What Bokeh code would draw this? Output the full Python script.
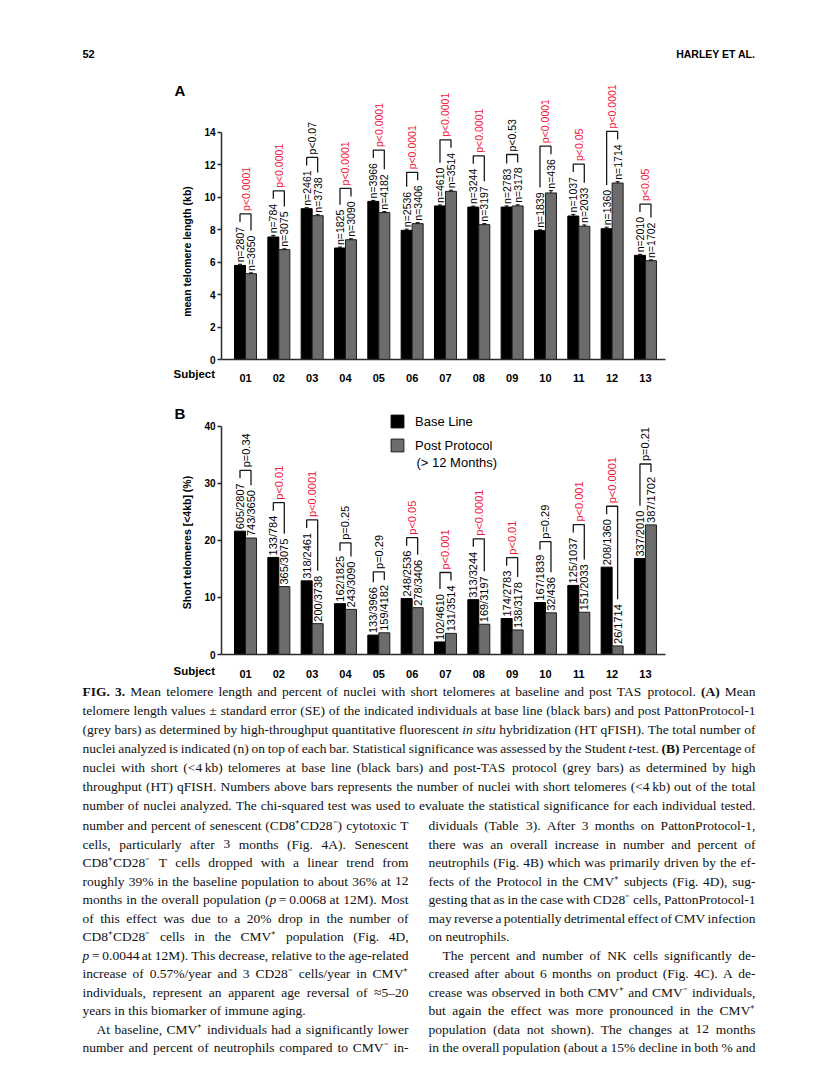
import numpy as np
from bokeh.plotting import figure
from bokeh.models import Range1d, FixedTicker, Legend, LegendItem, LinearAxis
from bokeh.embed import file_html
from bokeh.resources import INLINE
from bokeh.core.properties import value

# ---------------- data ----------------
subjects = ["01", "02", "03", "04", "05", "06", "07", "08", "09", "10", "11", "12", "13"]

# Panel A: mean telomere length (kb)
tel_base = [5.79, 7.54, 9.28, 6.86, 9.73, 7.95, 9.45, 9.38, 9.38, 7.93, 8.83, 8.05, 6.41]
tel_post = [5.28, 6.76, 8.85, 7.37, 9.04, 8.36, 10.35, 8.30, 9.45, 10.25, 8.20, 10.86, 6.08]
tel_se_base = [0.07, 0.10, 0.06, 0.06, 0.06, 0.07, 0.06, 0.06, 0.07, 0.05, 0.10, 0.09, 0.06]
tel_se_post = [0.05, 0.05, 0.06, 0.06, 0.06, 0.06, 0.07, 0.06, 0.07, 0.14, 0.08, 0.08, 0.05]
nuclei_base = [2807, 784, 2461, 1825, 3966, 2536, 4610, 3244, 2783, 1839, 1037, 1360, 2010]
nuclei_post = [3650, 3075, 3738, 3090, 4182, 3406, 3514, 3197, 3178, 436, 2033, 1714, 1702]
p_tel = ["p<0.0001", "p<0.0001", "p<0.07", "p<0.0001", "p<0.0001", "p<0.0001", "p<0.0001",
         "p<0.0001", "p<0.53", "p<0.0001", "p<0.05", "p<0.0001", "p<0.05"]
p_tel_sig = [True, True, False, True, True, True, True, True, False, True, True, True, True]

# Panel B: short telomeres (<4 kb), %
short_base = [605, 133, 318, 162, 133, 248, 102, 313, 174, 167, 125, 208, 337]
short_post = [743, 365, 200, 243, 159, 278, 131, 169, 138, 32, 151, 26, 387]
short_pct_base = [21.6, 17.0, 12.9, 8.9, 3.4, 9.8, 2.2, 9.6, 6.3, 9.1, 12.1, 15.3, 16.8]
short_pct_post = [20.4, 11.9, 5.4, 7.9, 3.8, 8.2, 3.7, 5.3, 4.3, 7.3, 7.4, 1.5, 22.7]
p_short = ["p=0.34", "p<0.01", "p<0.0001", "p=0.25", "p=0.29", "p<0.05", "p<0.001",
           "p<0.0001", "p<0.01", "p=0.29", "p<0.001", "p<0.0001", "p=0.21"]
p_short_sig = [False, True, True, False, False, True, True, True, True, False, True, True, False]

legend_labels = ["Base Line", "Post Protocol", "(> 12 Months)"]

caption_lines = [
    "*FIG. 3.*  Mean telomere length and percent of nuclei with short telomeres at baseline and post TAS protocol. *(A)* Mean",
    "telomere length values \u00b1 standard error (SE) of the indicated individuals at base line (black bars) and post PattonProtocol-1",
    "(grey bars) as determined by high-throughput quantitative fluorescent _in situ_ hybridization (HT qFISH). The total number of",
    "nuclei analyzed is indicated (n) on top of each bar. Statistical significance was assessed by the Student _t_-test. *(B)* Percentage of",
    "nuclei with short (<4\u2009kb) telomeres at base line (black bars) and post-TAS  protocol (grey bars) as determined by high",
    "throughput (HT) qFISH. Numbers above bars represents the number of nuclei with short telomeres (<4\u2009kb) out of the total",
    "number of nuclei analyzed. The chi-squared test was used to evaluate the statistical significance for each individual tested.",
]
# (text, indent, justify)
left_col = [
    ("number and percent of senescent (CD8\u207aCD28\u207b) cytotoxic T", 0, True),
    ("cells, particularly after 3 months (Fig. 4A). Senescent", 0, True),
    ("CD8\u207aCD28\u207b T cells dropped with a linear trend from", 0, True),
    ("roughly 39% in the baseline population to about 36% at 12", 0, True),
    ("months in the overall population (_p_\u2009=\u20090.0068 at 12M). Most", 0, True),
    ("of this effect was due to a 20% drop in the number of", 0, True),
    ("CD8\u207aCD28\u207b cells in the CMV\u207a population (Fig. 4D,", 0, True),
    ("_p_\u2009=\u20090.0044 at 12M). This decrease, relative to the age-related", 0, True),
    ("increase of 0.57%/year and 3 CD28\u207b cells/year in CMV\u207a", 0, True),
    ("individuals, represent an apparent age reversal of \u22485\u201320", 0, True),
    ("years in this biomarker of immune aging.", 0, False),
    ("At baseline, CMV\u207a individuals had a significantly lower", 14, True),
    ("number and percent of neutrophils compared to CMV\u207b in-", 0, True),
]
right_col = [
    ("dividuals (Table 3). After 3 months on PattonProtocol-1,", 0, True),
    ("there was an overall increase in number and percent of", 0, True),
    ("neutrophils (Fig. 4B) which was primarily driven by the ef-", 0, True),
    ("fects of the Protocol in the CMV\u207a subjects (Fig. 4D), sug-", 0, True),
    ("gesting that as in the case with CD28\u207b cells, PattonProtocol-1", 0, True),
    ("may reverse a potentially detrimental effect of CMV infection", 0, True),
    ("on neutrophils.", 0, False),
    ("The percent and number of NK cells significantly de-", 14, True),
    ("creased after about 6 months on product (Fig. 4C). A de-", 0, True),
    ("crease was observed in both CMV\u207a and CMV\u207b individuals,", 0, True),
    ("but again the effect was more pronounced in the CMV\u207a", 0, True),
    ("population (data not shown). The changes at 12 months", 0, True),
    ("in the overall population (about a 15% decline in both % and", 0, True),
]

# ---------------- style / page geometry ----------------
SANS = "Liberation Sans"
SERIF = "Liberation Serif"
RED = "#f2163c"
GREY = "#6c6c6c"
AXIS_C = "#2b2b2b"
PL, PR, PT, PB = 0, 827, 0, 1072      # page area covered by the single figure
X0_PAGE = 245.0                       # page x of first subject
X_STEP = 33.33                        # page px per subject
FRAME_LEFT, FRAME_RIGHT = 221, 665    # chart axes extent (page px)


def sub_of(px):
    return 1 + (px - X0_PAGE) / X_STEP


ARIAL = {c: 556 for c in "0123456789np"}
ARIAL.update({"=": 584, "<": 584, ".": 278, "/": 278})


def sans_w(s, fs):
    return sum(ARIAL.get(c, 556) for c in s) / 1000.0 * fs


# zero line page y, px per unit
panels = {"A": (359.0, 16.25), "B": (654.0, 5.71)}

p = figure(frame_width=PR - PL, frame_height=PB - PT, x_range=Range1d(PL, PR),
           y_range=Range1d(PB, PT), min_border=0, x_axis_type=None, y_axis_type=None,
           toolbar_location=None, output_backend="svg", outline_line_color=None,
           background_fill_color="white", border_fill_color="white")
p.extra_x_ranges = {"sub": Range1d(sub_of(PL), sub_of(PR))}
p.extra_y_ranges = {k: Range1d((z - PB) / u, (z - PT) / u) for k, (z, u) in panels.items()}


def panel(name, yticks, base, post, se_b, se_p, lab_b, lab_p, pvals, psig, fs, ylabel,
          ylabel_y, letter_y, subj_y, standoff):
    zero_y, ppu = panels[name]
    rn = dict(x_range_name="sub", y_range_name=name)

    def dy(py):
        return (zero_y - py) / ppu

    xs = np.arange(1, len(subjects) + 1)
    base = np.array(base, dtype=float)
    post = np.array(post, dtype=float)
    se_b = np.array(se_b, dtype=float)
    se_p = np.array(se_p, dtype=float)
    xb = xs - 0.165
    xg = xs + 0.165
    rb = p.vbar(x=xb, top=base, width=0.33, fill_color="black", line_color="black",
                line_width=1, **rn)
    rg = p.vbar(x=xg, top=post, width=0.33, fill_color=GREY, line_color="#1e1e1e",
                line_width=1, **rn)

    tb = base + se_b
    tg = post + se_p
    if se_b.any():
        for xx, v, t in ((xb, base, tb), (xg, post, tg)):
            p.segment(x0=xx, y0=v, x1=xx, y1=t, line_color="black", line_width=1, **rn)
            p.segment(x0=xx - 0.06, y0=t, x1=xx + 0.06, y1=t, line_color="black",
                      line_width=1, **rn)

    yb0 = tb + 2 / ppu
    yg0 = tg + 2 / ppu
    for xx, y0, labs in ((xb, yb0, lab_b), (xg, yg0, lab_p)):
        p.text(x=xx, y=y0, text=labs, angle=np.pi / 2, text_align="left",
               text_baseline="middle", text_font=value(SANS), text_font_size=f"{fs}px",
               text_color="black", **rn)

    len_b = np.array([sans_w(s, fs) for s in lab_b]) / ppu
    len_g = np.array([sans_w(s, fs) for s in lab_p]) / ppu
    leg_b = yb0 + len_b + 5 / ppu
    leg_g = yg0 + len_g + 5 / ppu
    top = np.maximum(leg_b, leg_g) + 8 / ppu
    p.multi_line(xs=[[a, a, b, b] for a, b in zip(xb, xg)],
                 ys=[[lb, t, t, lg] for lb, t, lg in zip(leg_b, top, leg_g)],
                 line_color="#1a1a1a", line_width=1.3, **rn)
    p.text(x=xs, y=top + 3 / ppu, text=pvals, angle=np.pi / 2, text_align="left",
           text_baseline="middle", text_font=value(SANS), text_font_size=f"{fs}px",
           text_color=[RED if s else "black" for s in psig], **rn)

    xa = LinearAxis(fixed_location=0, bounds=(sub_of(FRAME_LEFT), sub_of(FRAME_RIGHT)),
                    ticker=FixedTicker(ticks=[int(i) for i in xs]),
                    major_label_overrides={int(i): s for i, s in zip(xs, subjects)},
                    major_tick_line_color=None, minor_tick_line_color=None,
                    axis_line_color=AXIS_C, axis_line_width=1.5,
                    major_label_text_font=SANS, major_label_text_font_style="bold",
                    major_label_text_font_size="11px", major_label_text_color="black",
                    major_label_standoff=standoff, **rn)
    p.add_layout(xa, "below")
    ya = LinearAxis(fixed_location=sub_of(FRAME_LEFT), bounds=(0, yticks[-1]),
                    ticker=FixedTicker(ticks=yticks), major_tick_out=4, major_tick_in=0,
                    minor_tick_line_color=None, major_tick_line_color=AXIS_C,
                    major_tick_line_width=1.5, axis_line_color=AXIS_C, axis_line_width=1.5,
                    major_label_text_font=SANS, major_label_text_font_style="bold",
                    major_label_text_font_size="10px", major_label_text_color="black",
                    major_label_standoff=2, **rn)
    p.add_layout(ya, "left")

    p.text(x=[sub_of(174)], y=[dy(letter_y)], text=[name], text_font=value(SANS),
           text_font_style="bold", text_font_size="15px", text_baseline="middle",
           text_align="left", text_color="black", **rn)
    p.text(x=[sub_of(186)], y=[dy(ylabel_y)], text=[ylabel], angle=np.pi / 2,
           text_font=value(SANS), text_font_style="bold", text_font_size="10.5px",
           text_baseline="middle", text_align="center", text_color="black", **rn)
    p.text(x=[sub_of(173)], y=[dy(subj_y)], text=["Subject"], text_font=value(SANS),
           text_font_style="bold", text_font_size="11.5px", text_baseline="middle",
           text_align="left", text_color="black", **rn)
    return rb, rg, dy


# ---------------- panel A ----------------
labA_b = [f"n={n}" for n in nuclei_base]
labA_p = [f"n={n}" for n in nuclei_post]
panel("A", [0, 2, 4, 6, 8, 10, 12, 14], tel_base, tel_post, tel_se_base, tel_se_post,
      labA_b, labA_p, p_tel, p_tel_sig, 10.5, "mean telomere length (kb)", 251, 90, 373, 8)

# ---------------- panel B ----------------
labB_b = [f"{s}/{n}" for s, n in zip(short_base, nuclei_base)]
labB_p = [f"{s}/{n}" for s, n in zip(short_post, nuclei_post)]
zeros = [0.0] * len(subjects)
rbB, rgB, dyB = panel("B", [0, 10, 20, 30, 40], short_pct_base, short_pct_post, zeros, zeros,
                      labB_b, labB_p, p_short, p_short_sig, 11, "Short telomeres [<4kb] (%)",
                      542, 413, 670, 9)
legend = Legend(items=[LegendItem(label=legend_labels[0], renderers=[rbB]),
                       LegendItem(label=legend_labels[1], renderers=[rgB])],
                location=(389 - PL, PB - 453), padding=0, margin=0, spacing=8,
                glyph_width=16, glyph_height=16, label_height=16, label_standoff=10,
                label_text_font=SANS, label_text_font_size="13px", label_text_color="black",
                border_line_color=None, background_fill_alpha=0)
p.add_layout(legend)
p.text(x=[sub_of(416)], y=[dyB(461.7)], text=[legend_labels[2]], text_font=value(SANS),
       text_font_size="13px", text_baseline="middle", text_align="left", text_color="black",
       x_range_name="sub", y_range_name="B")

# ---------------- running header ----------------
HDR_FONT = value(SANS)
p.text(x=[82], y=[53], text=["52"], text_font=HDR_FONT, text_font_style="bold",
       text_font_size="11px", text_baseline="middle", text_align="left", text_color="black")
p.text(x=[755], y=[53], text=["HARLEY ET AL."], text_font=HDR_FONT, text_font_style="bold",
       text_font_size="10.5px", text_baseline="middle", text_align="right", text_color="black")

# ---------------- caption and body text (justified) ----------------
T_R = {}
for ch, w in zip("abcdefghijklmnopqrstuvwxyz",
                 [444, 500, 444, 500, 444, 333, 500, 500, 278, 278, 500, 278, 778, 500, 500, 500,
                  500, 333, 389, 278, 500, 500, 722, 500, 500, 444]):
    T_R[ch] = w
for ch, w in zip("ABCDEFGHIJKLMNOPQRSTUVWXYZ",
                 [722, 667, 667, 722, 611, 556, 722, 722, 333, 389, 722, 611, 889, 722, 722, 556,
                  722, 667, 556, 611, 722, 722, 944, 722, 722, 611]):
    T_R[ch] = w
for ch in "0123456789":
    T_R[ch] = 500
T_R.update({" ": 250, ".": 250, ",": 250, ":": 278, ";": 278, "(": 333, ")": 333, "-": 333,
            "/": 278, "%": 833, "=": 564, "+": 564, "<": 564, ">": 564, "\u00b1": 564, "[": 333,
            "]": 333, "\u207a": 380, "\u207b": 380, "\u2248": 549, "\u2013": 500, "\u2009": 167})
T_B = {"F": 611, "I": 389, "G": 778, ".": 250, "3": 500, "(": 333, ")": 333, "A": 722, "B": 667}
T_I = {"i": 278, "n": 500, "s": 389, "t": 278, "u": 500, "p": 500}


def tw(s, st, fs):
    tab = T_B if st == "b" else (T_I if st == "i" else T_R)
    return sum(tab.get(c, T_R.get(c, 500)) for c in s) / 1000.0 * fs


def parse(line):
    runs, st, buf = [], "r", ""
    for ch in line:
        if ch in "*_":
            if buf:
                runs.append((buf, st))
                buf = ""
            mark = "b" if ch == "*" else "i"
            st = "r" if st == mark else mark
        else:
            buf += ch
    if buf:
        runs.append((buf, st))
    words = [[]]
    for text, s in runs:
        parts = text.split(" ")
        for k, part in enumerate(parts):
            if k > 0:
                words.append([])
            if part:
                words[-1].append((part, s))
    return [w for w in words if w]


bucket = {"r": ([], [], []), "b": ([], [], []), "i": ([], [], [])}


def place(line, x0, width, y, fs, justify):
    words = parse(line)
    ww = [sum(tw(t, s, fs) for t, s in w) for w in words]
    gap = 0.25 * fs
    if justify and len(words) > 1:
        gap = (width - sum(ww)) / (len(words) - 1)
    x = x0
    for w, wwid in zip(words, ww):
        xx = x
        for t, s in w:
            bucket[s][0].append(xx)
            bucket[s][1].append(y)
            bucket[s][2].append(t)
            xx += tw(t, s, fs)
        x += wwid + gap


FS = 13.5
for i, line in enumerate(caption_lines):
    place(line, 82, 673, 691 + 19 * i, FS, True)
for col, (x0, w) in ((left_col, (82, 326)), (right_col, (428, 327))):
    for i, (line, ind, just) in enumerate(col):
        place(line, x0 + ind, w - ind, 825 + 18.5 * i, FS, just)

for st, (bx, by, bt) in bucket.items():
    if not bt:
        continue
    p.text(x=bx, y=by, text=bt, text_font=value(SERIF), text_font_size=f"{FS}px",
           text_font_style={"r": "normal", "b": "bold", "i": "italic"}[st],
           text_baseline="middle", text_align="left", text_color="#111111")

open("out.html", "w").write(file_html(p, INLINE))
